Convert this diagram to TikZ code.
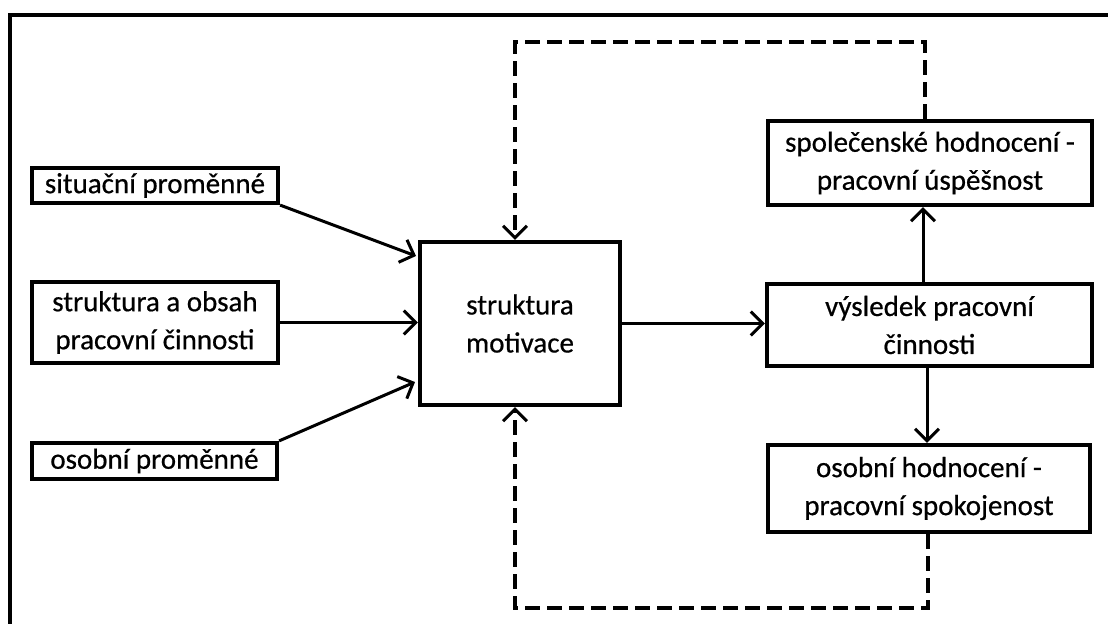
\documentclass[tikz,border=0pt]{standalone}
\usepackage{fontspec}
\setmainfont[FakeBold=0.6,AutoFakeBold=0.6]{Carlito}
\newfontfamily\boxfont[FakeBold=0.6]{Carlito}
\usetikzlibrary{arrows.meta,calc}
\begin{document}
\begin{tikzpicture}[x=1pt,y=-1pt,
  box/.style={draw,line width=4.2pt,inner sep=0pt,align=center,font=\fontsize{29}{38}\selectfont},
  conn/.style={line width=3pt,-{Straight Barb[length=12pt,width=24pt,line width=3pt]}},
  fb/.style={line width=3.5pt,dash pattern=on 15pt off 7pt,-{Straight Barb[length=12pt,width=24pt,line width=3pt]}}]
\useasboundingbox (0,0) rectangle (1108,624);
% outer frame
\draw[line width=4pt] (1108,15) -- (10,15) -- (10,624);
% nodes
\node[box,minimum width=246pt,minimum height=35pt] (sit) at (155,185.5) {situační proměnné};
\node[box,minimum width=246pt,minimum height=81pt] (str) at (155,322.5) {struktura a obsah\\pracovní činnosti};
\node[box,minimum width=245pt,minimum height=36pt] (osp) at (154.5,461) {osobní proměnné};
\node[box,minimum width=200pt,minimum height=163pt] (mot) at (520,323.5) {struktura\\motivace};
\node[box,minimum width=324pt,minimum height=84pt] (spo) at (930,163) {společenské hodnocení -\\pracovní úspěšnost};
\node[box,minimum width=325pt,minimum height=82pt] (vys) at (929.5,325) {výsledek pracovní\\činnosti};
\node[box,minimum width=322pt,minimum height=87pt] (osh) at (929,488.5) {osobní hodnocení -\\pracovní spokojenost};
% coordinates
\coordinate (e1) at (416,256);
\coordinate (e3) at (415,382);
\coordinate (t1) at (925,42);
\coordinate (t2) at (515,42);
\coordinate (b1) at (928,608);
\coordinate (b2) at (515,608);
% connectors
\draw[conn] (sit.south east) -- (e1);
\draw[conn] (str.east) -- (str.east -| mot.west);
\draw[conn] (osp.north east) -- (e3);
\draw[conn] (mot.east) -- (mot.east -| vys.west);
\draw[conn] (vys.north -| 923,0) -- (spo.south -| 923,0);
\draw[conn] (vys.south -| 927,0) -- (osh.north -| 927,0);
\draw[fb] (spo.north -| t1) -- (t1) -- (t2) -- (mot.north -| t2);
\draw[fb] (osh.south -| b1) -- (b1) -- (b2) -- (mot.south -| b2);
\end{tikzpicture}
\end{document}
